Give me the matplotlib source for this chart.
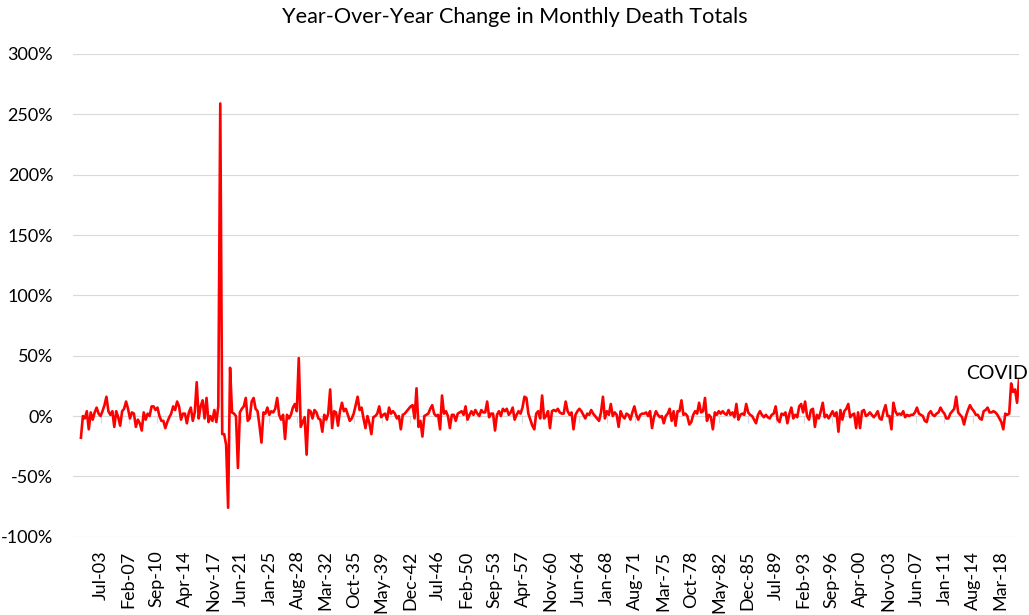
import numpy as np
import matplotlib.pyplot as plt
from matplotlib.ticker import FuncFormatter

# year-over-year change in monthly deaths (%), every third month
# starting Jan 1901 (the 1900 months have no prior year, so they are blank)
yoy = [
    -18, 0, -2, 4, -11, 3, -3, 3, 7, 2,
    0, 4, 9, 16, 4, 1, 4, -9, 4, -1,
    -8, 4, 6, 12, 6, -2, 3, 2, -9, -3,
    -6, -12, 3, -3, 2, 0, 8, 8, 5, 7,
    0, -4, -4, -10, -5, -1, 2, 8, 5, 12,
    8, -3, 2, 2, -6, 3, 7, -4, 3, 28,
    -2, 8, 13, -2, 15, -5, 0, -4, 5, -5,
    8, 259, -15, -15, -24, -76, 40, 3, 2, 0,
    -43, 3, 6, 8, 15, -4, -2, 12, 15, 6,
    4, -8, -22, 3, 2, 7, 1, 4, 3, 6,
    15, 1, -3, 1, -19, 1, -2, 1, 7, 10,
    4, 48, -9, -5, -1, -32, 5, 4, -2, 5,
    3, -2, -3, -13, 1, -3, 2, 22, -10, 4,
    3, -8, 4, 11, 4, 6, 1, -4, -2, 2,
    9, 16, 5, 7, -2, -10, 0, -6, -15, -1,
    0, 2, 8, -1, 1, 2, -3, 7, 2, 4,
    2, -2, 0, -11, 1, 2, 4, 6, 8, 9,
    -2, 23, -9, -4, -17, 0, 1, 2, 6, 9,
    2, 0, 1, -11, 17, 2, 4, 0, -10, 1,
    1, -4, 2, 3, 4, 1, 8, -3, 1, 4,
    1, 5, 2, 0, 5, 3, 3, 12, -1, 2,
    2, -12, 1, 4, 0, 6, 4, 6, 1, 3,
    7, -3, 1, 4, 2, 7, 16, 15, 2, -3,
    -8, -11, 2, 4, -2, 17, -2, 0, 4, -10,
    4, 5, 4, 6, 3, 2, 2, 12, 4, 1,
    3, -11, 1, 4, 6, 4, 1, -2, 2, 1,
    5, 2, 0, -2, -4, 3, 16, -2, 4, 1,
    10, 0, 3, 1, -9, 4, 0, -2, 2, 1,
    -3, 3, 8, 1, -3, 1, 2, 2, 3, 0,
    4, -10, -1, 4, 1, -1, 0, -6, 0, 2,
    6, -4, 4, -8, 4, 4, 13, 1, 2, 0,
    -7, -5, 1, 4, 2, 11, 3, 4, 15, -4,
    1, -1, -11, 3, 1, 4, 2, 4, 2, 1,
    5, 1, 3, -1, 10, -3, 1, 2, 1, 10,
    3, 1, 0, -3, -6, 1, 4, 1, -1, 1,
    -1, -2, 1, 2, 8, -3, -5, 2, 1, 3,
    -6, 2, 7, -2, 1, -1, 8, 10, 3, 12,
    0, -3, 5, 6, -9, 1, -2, 4, 11, -1,
    1, -2, 1, 4, 0, 3, -13, 5, -3, 4,
    6, 10, -1, 1, 2, -10, 3, -10, 4, 5,
    0, 1, 3, 1, -1, 1, 4, -2, -3, 4,
    9, 0, 0, -11, 11, 4, 1, 2, 1, 4,
    -1, 1, 0, 1, 1, 3, 7, 2, 1, 0,
    -4, -5, 2, 4, 1, 0, 2, 3, 7, 4,
    2, -2, -2, 2, 4, 6, 16, 3, 1, -1,
    -7, 0, 5, 9, 6, 4, 1, 1, -2, -3,
    4, 5, 7, 3, 3, 4, 3, 1, -2, -5,
    -11, 2, 1, 2, 27, 20, 22, 11, 30,
]
first_month = 12     # months after Jan 1900
step = 3             # months between readings
n_months = 1447      # categories on the axis, Jan 1900 onwards

tick_labels = ['Jul-03', 'Feb-07', 'Sep-10', 'Apr-14', 'Nov-17', 'Jun-21',
               'Jan-25', 'Aug-28', 'Mar-32', 'Oct-35', 'May-39', 'Dec-42',
               'Jul-46', 'Feb-50', 'Sep-53', 'Apr-57', 'Nov-60', 'Jun-64',
               'Jan-68', 'Aug-71', 'Mar-75', 'Oct-78', 'May-82', 'Dec-85',
               'Jul-89', 'Feb-93', 'Sep-96', 'Apr-00', 'Nov-03', 'Jun-07',
               'Jan-11', 'Aug-14', 'Mar-18']
tick_months = [42 + 43 * i for i in range(len(tick_labels))]

plt.rcParams['font.family'] = ['Lato', 'DejaVu Sans']

fig = plt.figure(figsize=(10.29, 6.15), dpi=100)
ax = fig.add_axes([0.0707, 0.1273, 0.9199, 0.7849])

x = first_month + step * np.arange(len(yoy))
ax.plot(x, yoy, color='#ff0000', lw=1.9, zorder=3)

ax.set_ylim(-100, 300)
ax.set_yticks(np.arange(-100, 301, 50))
ax.yaxis.set_major_formatter(FuncFormatter(lambda v, p: f'{v:.0f}%'))
ax.tick_params(axis='y', length=0, pad=14, labelsize=13)
ax.grid(axis='y', color='#d9d9d9', lw=0.8)
ax.set_axisbelow(True)
for s in ['left', 'right', 'top']:
    ax.spines[s].set_visible(False)

# category axis crosses at 0%, labels sit at the bottom
ax.set_xlim(-0.5, n_months - 0.5)
ax.spines['bottom'].set_position(('data', 0))
ax.spines['bottom'].set_color('#d9d9d9')
ax.set_xticks(tick_months)
ax.tick_params(axis='x', direction='out', length=5, color='#d9d9d9',
               labelbottom=False)

sec = ax.secondary_xaxis('bottom')
sec.set_xticks(tick_months, tick_labels)
sec.tick_params(length=0, pad=10, labelsize=13, labelrotation=90)
sec.spines['bottom'].set_visible(False)

fig.text(0.5, 1 - 17 / 615, 'Year-Over-Year Change in Monthly Death Totals',
         ha='center', va='center', fontsize=15.6)

ax.annotate('COVID', xy=(x[-1], yoy[-1]), xytext=(6.5, 0.5),
            textcoords='offset points', ha='right', va='baseline',
            fontsize=14, annotation_clip=False)

fig.savefig('out.png', dpi=100)
